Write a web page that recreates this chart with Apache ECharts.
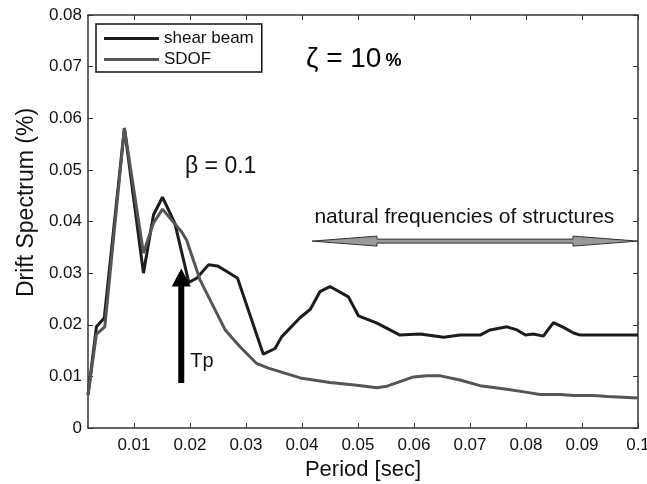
<!DOCTYPE html>
<html>
<head>
<meta charset="utf-8">
<script src="https://cdn.jsdelivr.net/npm/echarts@6/dist/echarts.min.js"></script>
<style>
  html, body { margin: 0; padding: 0; background: #fff; }
  #chart { width: 647px; height: 484px; }
</style>
</head>
<body>
<div id="chart"></div>
<script>
var FONT = '"Liberation Sans", Arial, Helvetica, sans-serif';

// shear beam curve
var periodShear = [0.0018, 0.0033, 0.0047, 0.0083, 0.0117, 0.0135, 0.0151, 0.0173, 0.0198, 0.0212,
    0.0233, 0.0249, 0.0266, 0.0285, 0.0331, 0.0352, 0.0364, 0.0397, 0.0415, 0.0432, 0.0450,
    0.0483, 0.0501, 0.0534, 0.0575, 0.0611, 0.0653, 0.0682, 0.0718, 0.0736, 0.0766, 0.0784,
    0.0799, 0.0813, 0.0831, 0.0849, 0.0867, 0.0885, 0.0897, 0.1000];
var driftShear = [0.0064, 0.0196, 0.0213, 0.0581, 0.0300, 0.0413, 0.0447, 0.0397, 0.0282, 0.0290,
    0.0316, 0.0314, 0.0303, 0.0290, 0.0143, 0.0154, 0.0177, 0.0214, 0.0230, 0.0264, 0.0274,
    0.0254, 0.0217, 0.0203, 0.0180, 0.0182, 0.0176, 0.0180, 0.0180, 0.0190, 0.0196, 0.0190,
    0.0180, 0.0182, 0.0178, 0.0204, 0.0195, 0.0184, 0.0180, 0.0180];

// SDOF curve
var periodSdof = [0.0018, 0.0033, 0.0048, 0.0083, 0.0117, 0.0135, 0.0151, 0.0185, 0.0194, 0.0218,
    0.0242, 0.0263, 0.0289, 0.0319, 0.0340, 0.0397, 0.0450, 0.0498, 0.0534, 0.0552, 0.0599,
    0.0623, 0.0647, 0.0682, 0.0718, 0.0766, 0.0802, 0.0825, 0.0861, 0.0885, 0.0921, 0.0945, 0.1000];
var driftSdof = [0.0064, 0.0182, 0.0196, 0.0581, 0.0339, 0.0397, 0.0424, 0.0380, 0.0364, 0.0287,
    0.0235, 0.0190, 0.0158, 0.0125, 0.0116, 0.0097, 0.0088, 0.0083, 0.0078, 0.0081, 0.0099,
    0.0101, 0.0101, 0.0093, 0.0082, 0.0075, 0.0069, 0.0065, 0.0065, 0.0063, 0.0063, 0.0061, 0.0058];

var xTicks = [0.01, 0.02, 0.03, 0.04, 0.05, 0.06, 0.07, 0.08, 0.09, 0.1];
var xTickLabels = ['0.01', '0.02', '0.03', '0.04', '0.05', '0.06', '0.07', '0.08', '0.09', '0.1'];
var yTickLabels = ['0', '0.01', '0.02', '0.03', '0.04', '0.05', '0.06', '0.07', '0.08'];

function pairs(xs, ys) {
    return xs.map(function (x, i) { return [x, ys[i]]; });
}

var chart = echarts.init(document.getElementById('chart'));

var axisLine = { show: true, onZero: false, lineStyle: { color: '#333', width: 1.5 } };

var option = {
    animation: false,
    backgroundColor: '#fff',
    grid: { left: 88, right: 9, top: 15, bottom: 56, containLabel: false, outerBoundsMode: 'none' },
    legend: {
        orient: 'vertical',
        left: 96,
        top: 24,
        icon: 'rect',
        itemWidth: 55,
        itemHeight: 3,
        itemGap: 4,
        padding: [6, 8, 4, 8],
        borderColor: '#111',
        borderWidth: 1.5,
        backgroundColor: '#fff',
        textStyle: { fontFamily: FONT, fontSize: 17, color: '#111' },
        data: ['shear beam', 'SDOF']
    },
    xAxis: [{
        type: 'value',
        min: 0.0018,
        max: 0.1,
        position: 'bottom',
        axisLine: axisLine,
        splitLine: { show: false },
        axisTick: { show: true, inside: true, length: 5, customValues: xTicks, lineStyle: { color: '#333' } },
        axisLabel: {
            customValues: xTicks,
            margin: 9,
            fontFamily: FONT, fontSize: 17, color: '#111',
            formatter: function (v) { return xTickLabels[xTicks.indexOf(Math.round(v * 100) / 100)]; }
        },
        name: 'Period [sec]',
        nameLocation: 'middle',
        nameGap: 29,
        nameTextStyle: { fontFamily: FONT, fontSize: 22, color: '#111' }
    }, {
        type: 'value',
        min: 0.0018,
        max: 0.1,
        position: 'top',
        axisLine: axisLine,
        splitLine: { show: false },
        axisTick: { show: true, inside: true, length: 5, customValues: xTicks, lineStyle: { color: '#333' } },
        axisLabel: { show: false }
    }],
    yAxis: [{
        type: 'value',
        min: 0,
        max: 0.08,
        interval: 0.01,
        position: 'left',
        axisLine: axisLine,
        splitLine: { show: false },
        axisTick: { show: true, inside: true, length: 5, lineStyle: { color: '#333' } },
        axisLabel: {
            margin: 6,
            fontFamily: FONT, fontSize: 17, color: '#111',
            formatter: function (v) { return yTickLabels[Math.round(v * 100)]; }
        },
        name: 'Drift Spectrum (%)',
        nameLocation: 'middle',
        nameGap: 50,
        nameTextStyle: { fontFamily: FONT, fontSize: 23, color: '#111', padding: [0, 0, 0, 38] }
    }, {
        type: 'value',
        min: 0,
        max: 0.08,
        interval: 0.01,
        position: 'right',
        axisLine: axisLine,
        splitLine: { show: false },
        axisTick: { show: true, inside: true, length: 5, lineStyle: { color: '#333' } },
        axisLabel: { show: false }
    }],
    series: [{
        name: 'shear beam',
        type: 'line',
        data: pairs(periodShear, driftShear),
        showSymbol: false,
        color: '#1c1c1c',
        lineStyle: { color: '#1c1c1c', width: 3 }
    }, {
        name: 'SDOF',
        type: 'line',
        data: pairs(periodSdof, driftSdof),
        showSymbol: false,
        color: '#555',
        lineStyle: { color: '#555', width: 3 }
    }]
};
chart.setOption(option);

// annotations placed in data units
function px(x, y) { return chart.convertToPixel({ gridIndex: 0 }, [x, y]); }

var tpBase = px(0.01845, 0.0087);
var tpTip = px(0.01845, 0.0309);
var tpX = tpBase[0];
var headY = tpTip[1] + 18;

var natL = px(0.0418, 0.0362);
var natR = px(0.1, 0.0362);
var natText = px(0.069, 0.0362);
var yc = natL[1];
var hl = 65;

chart.setOption({
    graphic: [{
        type: 'polygon',
        shape: { points: [
            [tpX - 3, tpBase[1]], [tpX - 3, headY], [tpX - 9.5, headY], [tpX, tpTip[1]],
            [tpX + 9.5, headY], [tpX + 3, headY], [tpX + 3, tpBase[1]]
        ] },
        style: { fill: '#000' },
        z: 100
    }, {
        type: 'polygon',
        shape: { points: [
            [natL[0], yc], [natL[0] + hl, yc - 5], [natL[0] + hl, yc - 2], [natR[0] - hl, yc - 2],
            [natR[0] - hl, yc - 5], [natR[0], yc], [natR[0] - hl, yc + 5], [natR[0] - hl, yc + 2],
            [natL[0] + hl, yc + 2], [natL[0] + hl, yc + 5]
        ] },
        style: { fill: '#999', stroke: '#333', lineWidth: 1 },
        z: 100
    }, {
        type: 'text',
        x: tpX + 9, y: tpBase[1] - 22,
        style: { text: 'Tp', font: '20px ' + FONT, fill: '#111', verticalAlign: 'middle' },
        z: 100
    }, {
        type: 'text',
        x: natText[0], y: yc - 24,
        style: { text: 'natural frequencies of structures', font: '21px ' + FONT, fill: '#111',
            align: 'center', verticalAlign: 'middle' },
        z: 100
    }, {
        type: 'text',
        x: 185, y: 167,
        style: { text: 'β = 0.1', font: '23px ' + FONT, fill: '#111', verticalAlign: 'middle' },
        z: 100
    }, {
        type: 'text',
        x: 306, y: 59,
        style: {
            text: '{a|ζ = 10}{b|%}',
            verticalAlign: 'middle',
            rich: {
                a: { fontFamily: FONT, fontSize: 28, color: '#111' },
                b: { fontFamily: FONT, fontSize: 18, fontWeight: 'bold', color: '#111', padding: [5, 0, 0, 4] }
            }
        },
        z: 100
    }]
});
</script>
</body>
</html>
